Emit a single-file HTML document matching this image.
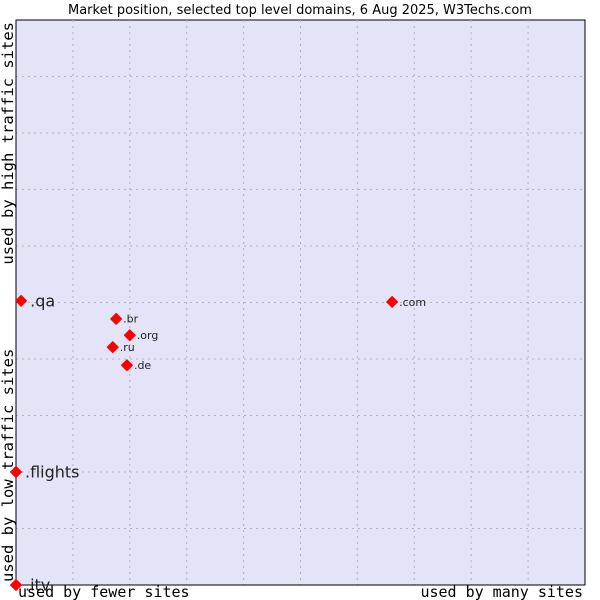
<!DOCTYPE html>
<html><head><meta charset="utf-8"><style>
body{margin:0;background:#fff;}
svg{display:block;font-family:"DejaVu Sans","Liberation Sans",sans-serif;}
</style></head><body>
<svg id="chart" width="600" height="600">
<text x="300" y="14" text-anchor="middle" font-size="13" fill="#000">Market position, selected top level domains, 6 Aug 2025, W3Techs.com</text>
<rect x="16" y="20" width="569" height="565" fill="#e4e4f8" stroke="#000" stroke-width="1"/>
<g id="grid"></g>
<line x1="16" y1="20" x2="16" y2="585" stroke="#000"/>
<line x1="16" y1="585" x2="585" y2="585" stroke="#000"/>
<g id="points"></g>
<text x="18" y="597" font-family="DejaVu Sans Mono,monospace" font-size="15">used by fewer sites</text>
<text x="583" y="597" text-anchor="end" font-family="DejaVu Sans Mono,monospace" font-size="15">used by many sites</text>
<text transform="translate(13,582) rotate(-90)" font-family="DejaVu Sans Mono,monospace" font-size="15.5">used by low traffic sites</text>
<text transform="translate(13,22) rotate(-90)" text-anchor="end" font-family="DejaVu Sans Mono,monospace" font-size="15.5">used by high traffic sites</text>
</svg>
<script>
const domains=[".qa",".br",".org",".ru",".de",".com",".flights",".itv"];
const popularity=[0.9,17.6,20.0,17.0,19.5,66.1,0,0];
const traffic=[50.3,47.1,44.2,42.1,38.9,50.1,20.0,0];
const labelSizes=[16,11,11,11,11,11,16,16];
const gridTicks=[10,20,30,40,50,60,70,80,90];
const NS="http://www.w3.org/2000/svg";
const X0=16,X1=585,Y0=585,Y1=20;
function xs(v){return X0+v/100*(X1-X0);}
function ys(v){return Y0-v/100*(Y0-Y1);}
const grid=document.getElementById('grid');
gridTicks.forEach(t=>{
  const v=document.createElementNS(NS,'line');
  v.setAttribute('x1',xs(t));v.setAttribute('x2',xs(t));v.setAttribute('y1',Y1);v.setAttribute('y2',Y0);
  v.setAttribute('stroke','#b4b4b4');v.setAttribute('stroke-dasharray','2,4');
  
  
  grid.appendChild(v);
  const h=document.createElementNS(NS,'line');
  h.setAttribute('y1',ys(t));h.setAttribute('y2',ys(t));h.setAttribute('x1',X0);h.setAttribute('x2',X1);
  h.setAttribute('stroke','#b4b4b4');h.setAttribute('stroke-dasharray','2,4');
  
  
  grid.appendChild(h);
});
const pts=document.getElementById('points');
domains.forEach((d,i)=>{
  const x=xs(popularity[i]),y=ys(traffic[i]);
  const m=document.createElementNS(NS,'polygon');
  m.setAttribute('points',`${x},${y-5.5} ${x+5.5},${y} ${x},${y+5.5} ${x-5.5},${y}`);
  m.setAttribute('fill','#ff0000');
  m.setAttribute('stroke','#ff0000');
  m.setAttribute('stroke-linejoin','round');
  
  
  pts.appendChild(m);
  const t=document.createElementNS(NS,'text');
  t.setAttribute('x',x+(labelSizes[i]>12?9:7));t.setAttribute('y',y+labelSizes[i]*0.35);
  t.setAttribute('font-size',labelSizes[i]);t.setAttribute('fill','#222');
  t.textContent=d;
  
  
  pts.appendChild(t);
});
</script>
</body></html>
